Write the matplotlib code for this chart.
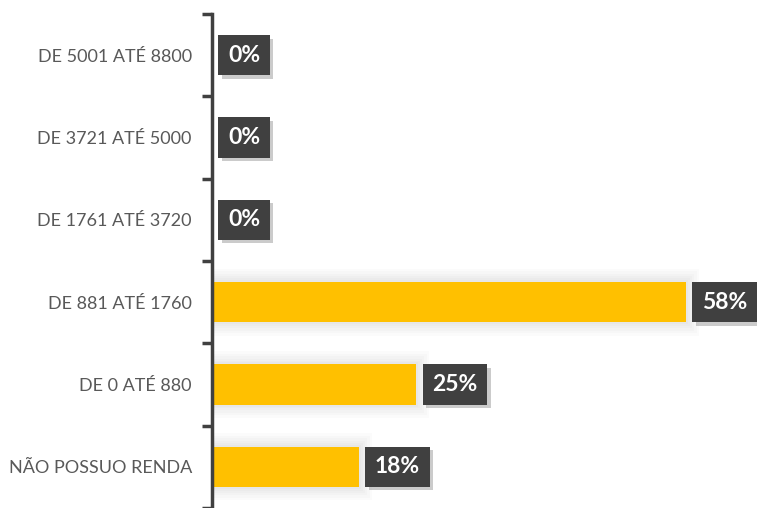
import matplotlib
matplotlib.use("Agg")
import matplotlib.pyplot as plt
import matplotlib.patheffects as pe

categories = ["NÃO POSSUO RENDA", "DE 0 ATÉ 880", "DE 881 ATÉ 1760",
              "DE 1761 ATÉ 3720", "DE 3721 ATÉ 5000", "DE 5001 ATÉ 8800"]
values = [18, 25, 58, 0, 0, 0]
labels = ["18%", "25%", "58%", "0%", "0%", "0%"]

plt.rcParams['font.family'] = ['Lato', 'DejaVu Sans']

fig = plt.figure(figsize=(7.57, 5.08), dpi=100)
ax = fig.add_axes([212/757, 0.0, 1 - 212/757, 1 - 14/508])

ypos = list(range(len(categories)))
bar_h = 0.49

# soft glow behind bars
for y, v in zip(ypos, values):
    if v > 0:
        for k in [1.6, 1.3, 1.0, 0.7, 0.45, 0.25]:
            ax.barh(y, v + k, height=bar_h + k * 0.2, left=0, color="#000000",
                    alpha=0.015, zorder=1, linewidth=0)

ax.barh(ypos, values, height=bar_h, color="#FFC000", zorder=2, linewidth=0)

for y, v, lab in zip(ypos, values, labels):
    ax.annotate(lab, xy=(v, y), xytext=(11.5, 0), textcoords="offset points",
                ha="left", va="center", fontsize=16.5, fontweight="bold", color="white",
                bbox=dict(boxstyle="square,pad=0.42", fc="#404040", ec="none",
                          path_effects=[pe.withSimplePatchShadow(offset=(2.5, -2.5), shadow_rgbFace="#999999", alpha=0.5)]),
                zorder=5)

ax.set_xlim(0, 66.7)
ax.set_ylim(-0.5, len(categories) - 0.5)
ax.set_yticks(ypos)
ax.set_yticklabels(categories, fontsize=13, color="#595959")
ax.set_yticks([i - 0.5 for i in range(len(categories) + 1)], minor=True)
ax.tick_params(axis="y", which="major", length=0, pad=14.5)
ax.tick_params(axis="y", which="minor", length=7, width=2.5, color="#404040")
ax.set_xticks([])
for s in ["top", "right", "bottom"]:
    ax.spines[s].set_visible(False)
ax.spines["left"].set_color("#404040")
ax.spines["left"].set_linewidth(2.5)
ax.set_facecolor("none")

fig.savefig("out.png", dpi=100)
